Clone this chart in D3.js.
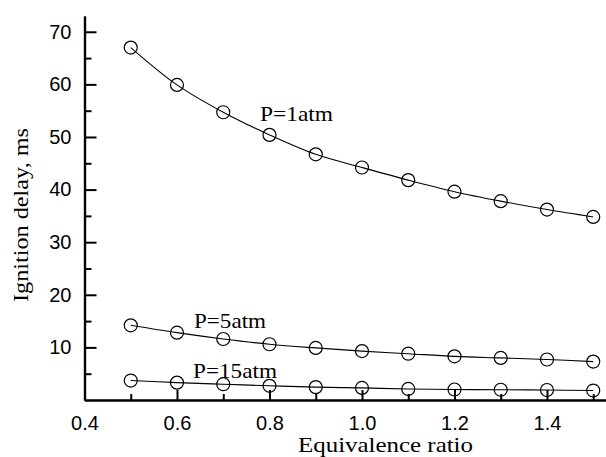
<!DOCTYPE html>
<html>
<head>
<meta charset="utf-8">
<script src="https://cdn.jsdelivr.net/npm/d3@7"></script>
<style>
  body { margin: 0; background: #fff; }
  svg { display: block; }
</style>
</head>
<body>
<svg id="chart" width="606" height="457"></svg>
<script>
// equivalence ratio values
const ratios = [0.5, 0.6, 0.7, 0.8, 0.9, 1.0, 1.1, 1.2, 1.3, 1.4, 1.5];

// ignition delay (ms) for each pressure
const delayP1 = [67.0, 59.9, 54.7, 50.4, 46.7, 44.2, 41.8, 39.6, 37.8, 36.2, 34.8];
const delayP5 = [14.2, 12.8, 11.6, 10.6, 9.9, 9.3, 8.8, 8.3, 8.0, 7.7, 7.3];
const delayP15 = [3.7, 3.3, 3.0, 2.7, 2.45, 2.3, 2.1, 2.0, 1.95, 1.9, 1.8];

const seriesNames = ["P=1atm", "P=5atm", "P=15atm"];

const xTicks = [0.4, 0.6, 0.8, 1.0, 1.2, 1.4];
const xMinorTicks = [0.5, 0.7, 0.9, 1.1, 1.3, 1.5];
const yTicks = [10, 20, 30, 40, 50, 60, 70];
const yMinorTicks = [5, 15, 25, 35, 45, 55, 65];

var svg = d3.select("#chart");

var x = d3.scaleLinear().domain([0.4, 1.5276]).range([84.5, 606]);
var y = d3.scaleLinear().domain([0, 73]).range([400, 16]);

// smooth fitted line + open circles for each series
function drawSeries(values) {
  var pts = ratios.map((r, i) => ({ r: r, v: values[i] }));

  var line = d3
    .line()
    .x((d) => x(d.r))
    .y((d) => y(d.v))
    .curve(d3.curveCatmullRom);

  svg
    .append("path")
    .datum(pts)
    .attr("d", line)
    .attr("fill", "none")
    .attr("stroke", "#000")
    .attr("stroke-width", 1.1);

  svg
    .append("g")
    .selectAll("circle")
    .data(pts)
    .enter()
    .append("circle")
    .attr("cx", (d) => x(d.r))
    .attr("cy", (d) => y(d.v))
    .attr("r", 6.5)
    .attr("fill", "none")
    .attr("stroke", "#000")
    .attr("stroke-width", 1.2);
}

drawSeries(delayP1);
drawSeries(delayP5);
drawSeries(delayP15);

// axes - ticks point inward
var xAxis = d3.axisBottom(x).tickValues(xTicks).tickFormat(d3.format(".1f")).tickSizeInner(-10).tickSizeOuter(0).tickPadding(16);
var xMinor = d3.axisBottom(x).tickValues(xMinorTicks).tickFormat("").tickSizeInner(-6).tickSizeOuter(0);
var yAxis = d3.axisLeft(y).tickValues(yTicks).tickSizeInner(-12).tickSizeOuter(0).tickPadding(13);
var yMinor = d3.axisLeft(y).tickValues(yMinorTicks).tickFormat("").tickSizeInner(-7).tickSizeOuter(0);

var gx = svg.append("g").attr("transform", "translate(0," + y(0) + ")");
gx.call(xAxis);
gx.append("g").call(xMinor);

var gy = svg.append("g").attr("transform", "translate(" + x(0.4) + ",0)");
gy.call(yAxis);
gy.append("g").call(yMinor);

svg.selectAll(".domain").attr("stroke", "#000").attr("stroke-width", 2.2);
svg.selectAll(".tick line").attr("stroke", "#000").attr("stroke-width", 2);
svg
  .selectAll(".tick text")
  .attr("fill", "#000")
  .style("font-family", "'Liberation Sans', Arial, sans-serif")
  .style("font-size", "20px");

// axis titles
svg
  .append("text")
  .attr("x", 385.5)
  .attr("y", 452)
  .attr("text-anchor", "middle")
  .attr("textLength", 175)
  .attr("lengthAdjust", "spacingAndGlyphs")
  .style("font-family", "'Liberation Serif', 'Times New Roman', serif")
  .style("font-size", "22px")
  .text("Equivalence ratio");

svg
  .append("text")
  .attr("transform", "translate(28,215) rotate(-90)")
  .attr("text-anchor", "middle")
  .attr("textLength", 174)
  .attr("lengthAdjust", "spacingAndGlyphs")
  .style("font-family", "'Liberation Serif', 'Times New Roman', serif")
  .style("font-size", "22px")
  .text("Ignition delay, ms");

// series labels
var labelPos = [
  { x: 260, y: 121, w: 73 },
  { x: 194, y: 328, w: 72 },
  { x: 193, y: 378, w: 84 },
];

svg
  .append("g")
  .selectAll("text")
  .data(seriesNames)
  .enter()
  .append("text")
  .attr("x", (d, i) => labelPos[i].x)
  .attr("y", (d, i) => labelPos[i].y)
  .attr("textLength", (d, i) => labelPos[i].w)
  .attr("lengthAdjust", "spacingAndGlyphs")
  .style("font-family", "'Liberation Serif', 'Times New Roman', serif")
  .style("font-size", "21px")
  .text((d) => d);
</script>
</body>
</html>
